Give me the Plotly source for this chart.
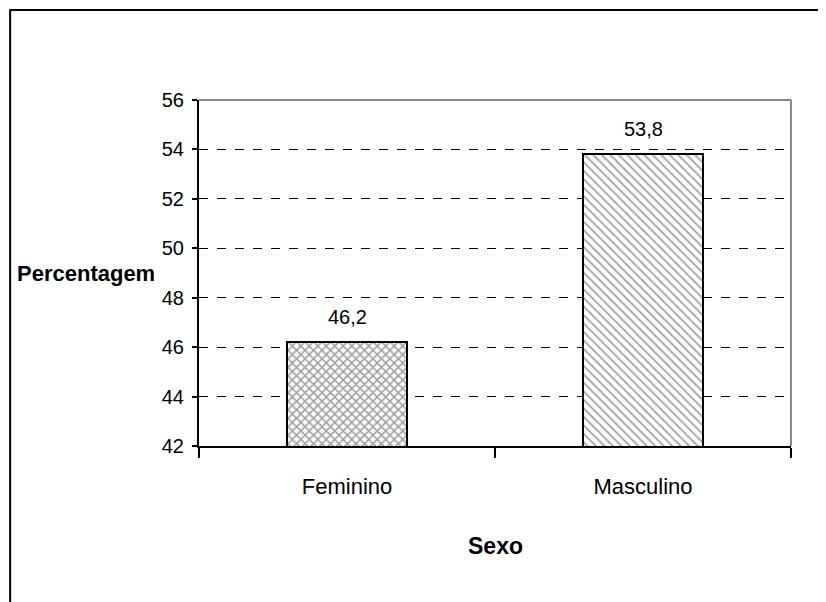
import plotly.graph_objects as go

categorias = ["Feminino", "Masculino"]
percentagens = [46.2, 53.8]
rotulos = ["46,2", "53,8"]
y_ticks = [42, 44, 46, 48, 50, 52, 54, 56]

FONT = "Liberation Sans, Arial, sans-serif"

fig = go.Figure()
fig.add_trace(go.Bar(
    x=categorias,
    y=percentagens,
    width=0.405,
    marker=dict(
        color="white",
        line=dict(color="black", width=2),
        pattern=dict(shape=["x", "\\"], fgcolor="#404040", bgcolor="white",
                     size=[6, 6], solidity=[0.45, 0.3]),
    ),
    showlegend=False,
    hoverinfo="skip",
))

for c, v, t in zip(categorias, percentagens, rotulos):
    fig.add_annotation(x=c, y=v, text=t, showarrow=False, yanchor="bottom",
                       yshift=12, font=dict(family=FONT, size=20, color="black"))

fig.add_annotation(xref="paper", yref="paper", x=-0.071, y=0.5, text="<b>Percentagem</b>",
                   showarrow=False, xanchor="right", yanchor="middle",
                   font=dict(family=FONT, size=22, color="black"))
fig.add_annotation(xref="paper", yref="paper", x=0.5, y=-0.29, text="<b>Sexo</b>",
                   showarrow=False, xanchor="center", yanchor="middle",
                   font=dict(family=FONT, size=23, color="black"))

# plot area border (top/right grey)
fig.add_shape(type="line", xref="paper", yref="paper", x0=0, x1=1, y0=1, y1=1,
              line=dict(color="#888888", width=2), layer="above")
fig.add_shape(type="line", xref="paper", yref="paper", x0=1, x1=1, y0=0, y1=1,
              line=dict(color="#888888", width=2), layer="above")
# outer chart border
fig.add_shape(type="rect", xref="paper", yref="paper", x0=-0.319, x1=2, y0=-2, y1=1.26,
              line=dict(color="black", width=2), fillcolor="rgba(0,0,0,0)", layer="below")

fig.update_layout(
    width=826, height=602,
    margin=dict(l=191, r=43, t=92, b=164),
    paper_bgcolor="white", plot_bgcolor="white",
    separators=", ",
    font=dict(family=FONT, color="black"),
    bargap=0,
)
fig.update_xaxes(
    type="category", tickson="boundaries", ticks="outside", ticklen=10,
    tickcolor="black", tickwidth=1.5, showline=True, linecolor="black", linewidth=2,
    showgrid=False, tickfont=dict(family=FONT, size=22, color="black"),
    ticklabelstandoff=20,
)
fig.update_yaxes(
    range=[42, 56], tickvals=y_ticks, ticks="outside", ticklen=5, tickcolor="black",
    tickwidth=1.5, showline=True, linecolor="black", linewidth=2,
    showgrid=True, gridcolor="black", griddash="dash", gridwidth=1, zeroline=False,
    tickfont=dict(family=FONT, size=20, color="black"), ticklabelstandoff=4,
)

fig.write_html("out.html")
